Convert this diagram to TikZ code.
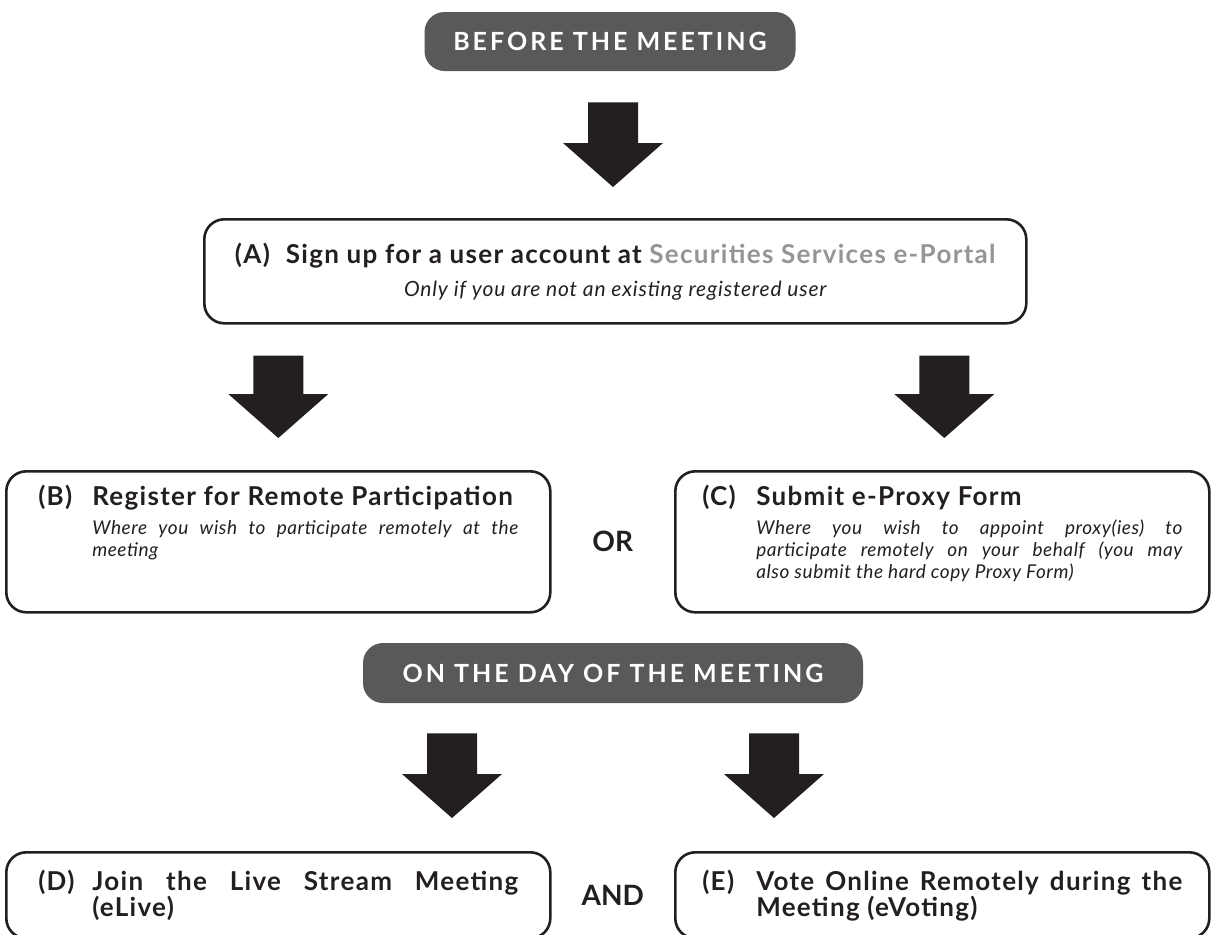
\documentclass[tikz,border=0pt]{standalone}
\usepackage{fontspec}
\setmainfont{Lato}
\newfontfamily\headfont[LetterSpace=12]{Lato}
\newfontfamily\titlefont[LetterSpace=5]{Lato}
\newfontfamily\notefont[LetterSpace=4]{Lato}
\newfontfamily\smallnotefont[LetterSpace=3]{Lato}
\usetikzlibrary{calc}
\definecolor{ink}{HTML}{231F20}
\definecolor{headgray}{HTML}{58595B}
\definecolor{portalgray}{HTML}{939598}
\tikzstyle{headbox} = [fill=headgray, text=white, rounded corners=10pt, font=\headfont\bfseries\fontsize{12.5}{15}\selectfont, inner sep=0pt]
\tikzstyle{stepbox} = [draw=ink, line width=1.3pt, rounded corners=10pt, anchor=north west, inner xsep=16pt, inner ysep=0pt, text=ink]
\tikzstyle{joinword} = [font=\bfseries\fontsize{14}{16}\selectfont, text=ink]
\tikzstyle{arrowfill} = [fill=ink]
\newcommand{\blockarrow}[2]{\fill[arrowfill] ($(#1)+(-25,0)$) -- ($(#1)+(25,0)$) -- ($(#2)+(25,-44)$) -- ($(#2)+(50,-44)$) -- (#2) -- ($(#2)+(-50,-44)$) -- ($(#2)+(-25,-44)$) -- cycle;}
\newcommand{\steptitle}[3][17pt]{{\titlefont\bfseries\fontsize{13}{13}\selectfont\lineskiplimit=-4pt\noindent\hangindent=27pt\hangafter=1\rule{0pt}{#1}\makebox[27pt][l]{#2}#3\par}}
\newcommand{\stepnote}[1]{\vspace{3.5pt}{\smallnotefont\itshape\fontsize{9.5}{11}\selectfont\lineskiplimit=-4pt\leftskip=27pt\noindent #1\par}}

\begin{document}
\begin{tikzpicture}[x=0.5pt, y=-0.5pt]
\useasboundingbox (0,0) rectangle (1212,934);

\node[headbox, minimum width=185.5pt, minimum height=29.5pt] (before) at (610,41.5) {BEFORE THE MEETING};

\node[stepbox, inner xsep=0pt] (stepA) at (203,218) {%
    \begin{minipage}[t][52pt][t]{411pt}
        \centering
        {\titlefont\bfseries\fontsize{13}{13}\selectfont\rule{0pt}{22pt}(A)\hspace{8pt}Sign up for a user account at \textcolor{portalgray}{Securities Services e-Portal}\par}
        {\notefont\itshape\fontsize{10.5}{16.5}\selectfont Only if you are not an existing registered user\par}
    \end{minipage}};

\node[stepbox] (stepB) at (5,470) {%
    \begin{minipage}[t][70.5pt][t]{240pt}
        \steptitle{(B)}{Register for Remote Participation}
        \stepnote{Where you wish to participate remotely at the\linebreak meeting}
    \end{minipage}};
\node[stepbox, inner xsep=13.5pt] (stepC) at (674,470) {%
    \begin{minipage}[t][70.5pt][t]{240pt}
        \steptitle{(C)}{Submit e-Proxy Form}
        \stepnote{Where you wish to appoint proxy(ies) to\linebreak participate remotely on your behalf (you may\linebreak also submit the hard copy Proxy Form)}
    \end{minipage}};
\node[joinword] (or) at ($(stepB.east)!0.5!(stepC.west)$) {OR};

\node[headbox, minimum width=250pt, minimum height=30pt] (onday) at (613,673) {ON THE DAY OF THE MEETING};

\node[stepbox] (stepD) at (5,851) {%
    \begin{minipage}[t][43pt][t]{240pt}
        \steptitle[19pt]{(D)}{Join the Live Stream Meeting\linebreak (eLive)}
    \end{minipage}};
\node[stepbox, inner xsep=13.5pt] (stepE) at (674,851) {%
    \begin{minipage}[t][43pt][t]{240pt}
        \steptitle[19pt]{(E)}{Vote Online Remotely during the\linebreak Meeting (eVoting)}
    \end{minipage}};
\node[joinword] (and) at ($(stepD.east)!0.5!(stepE.west)$) {AND};

\coordinate (topA) at ($(before.south)+(3,31)$);
\coordinate (tipA) at ($(topA |- stepA.north)+(0,-31)$);
\blockarrow{topA}{tipA}
\coordinate (topB) at ($(stepB.north |- stepA.south)+(0,31)$);
\coordinate (tipB) at ($(topB |- stepB.north)+(0,-32)$);
\blockarrow{topB}{tipB}
\coordinate (topC) at ($(stepC.north |- stepA.south)+(2,31)$);
\coordinate (tipC) at ($(topC |- stepC.north)+(0,-32)$);
\blockarrow{topC}{tipC}
\coordinate (topD) at ($(onday.south)+(-161,30)$);
\coordinate (tipD) at ($(topD |- stepD.north)+(0,-33)$);
\blockarrow{topD}{tipD}
\coordinate (topE) at ($(onday.south)+(161,30)$);
\coordinate (tipE) at ($(topE |- stepE.north)+(0,-33)$);
\blockarrow{topE}{tipE}
\end{tikzpicture}
\end{document}
